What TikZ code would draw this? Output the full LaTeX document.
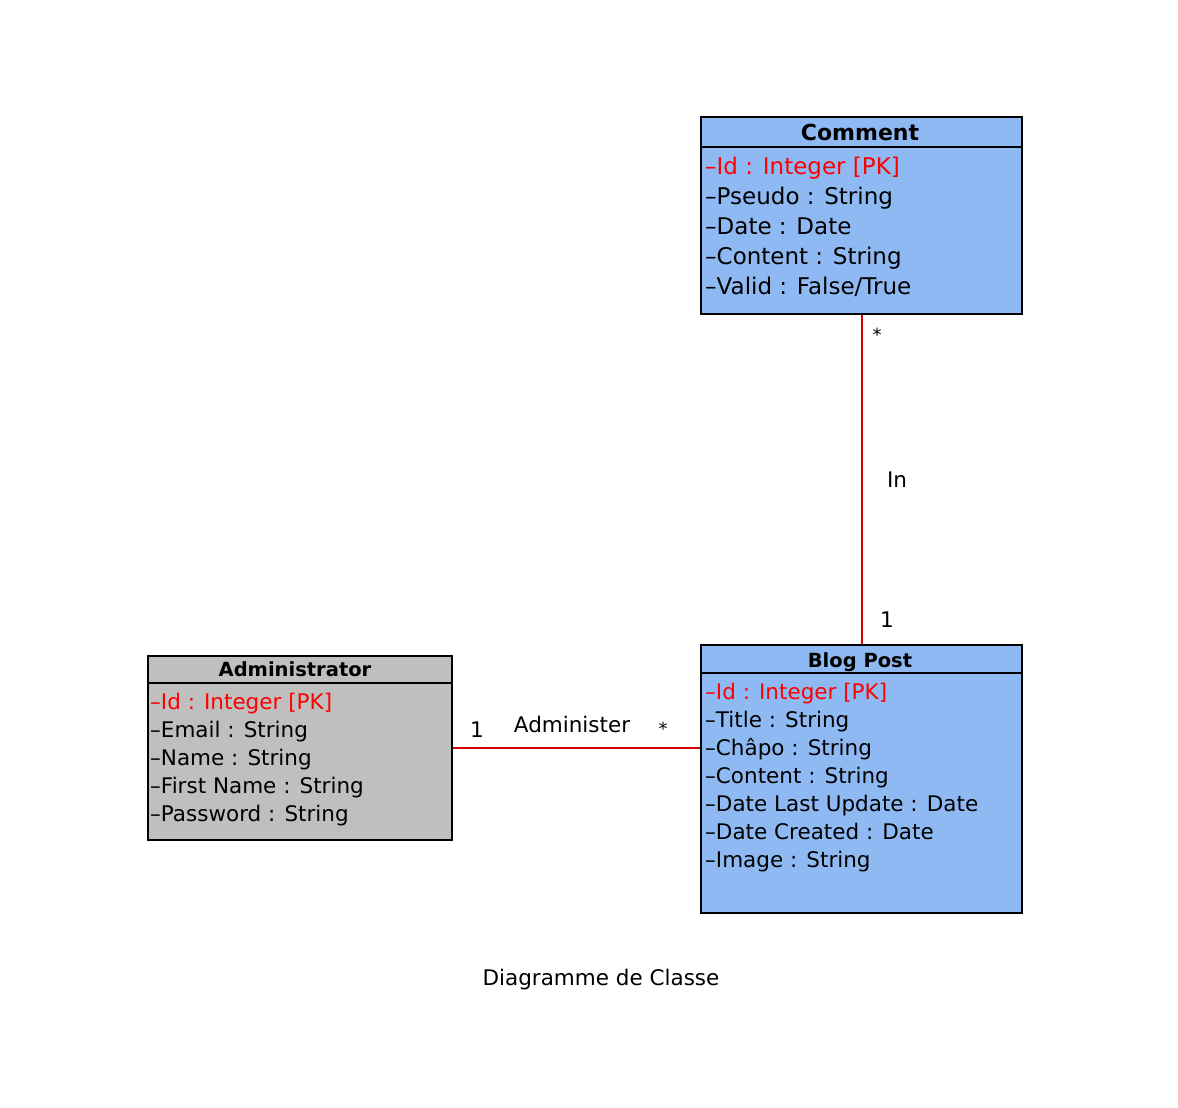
\documentclass[tikz,border=0pt]{standalone}
\usepackage{fontspec}
\setmainfont{DejaVu Sans}
\definecolor{boxblue}{RGB}{143,185,242}
\definecolor{boxgray}{RGB}{191,191,191}
\definecolor{pkred}{RGB}{255,0,0}
\definecolor{linkred}{RGB}{215,0,0}
\begin{document}
\begin{tikzpicture}[x=1pt,y=-1pt,
  classbox/.style={draw=black, line width=2pt, inner sep=0pt, anchor=north west},
  divider/.style={draw=black, line width=2pt},
  bigattr/.style={anchor=base west, inner sep=0pt, font=\fontsize{23}{28}\selectfont},
  attr/.style={anchor=base west, inner sep=0pt, font=\fontsize{21.5}{26}\selectfont},
  pk/.style={text=pkred},
  bighead/.style={anchor=base, inner sep=0pt, font=\fontsize{22}{26}\selectfont\bfseries},
  head/.style={anchor=base, inner sep=0pt, font=\fontsize{19.5}{24}\selectfont\bfseries},
  relline/.style={draw=linkred, line width=2pt},
  lbl/.style={inner sep=0pt, font=\fontsize{21.5}{26}\selectfont},
  star/.style={inner sep=0pt, font=\fontsize{18}{22}\selectfont}
]
\useasboundingbox (0,0) rectangle (1178,1108);

% Comment
\node[classbox, fill=boxblue, minimum width=321pt, minimum height=197pt] (comment) at (700,116) {};
\draw[divider] (700,147) -- (1021,147);
\node[bighead] (commenth) at (860,140) {Comment};
\node[bigattr, pk] (c1) at (705,174) {–Id : Integer [PK]};
\node[bigattr] (c2) at (705,204) {–Pseudo : String};
\node[bigattr] (c3) at (705,234) {–Date : Date};
\node[bigattr] (c4) at (705,264) {–Content : String};
\node[bigattr] (c5) at (705,294) {–Valid : False/True};

% Blog Post
\node[classbox, fill=boxblue, minimum width=321pt, minimum height=268pt] (blog) at (700,644) {};
\draw[divider] (700,672.5) -- (1021,672.5);
\node[head] (blogh) at (860,667) {Blog Post};
\node[attr, pk] (b1) at (705,699) {–Id : Integer [PK]};
\node[attr] (b2) at (705,727) {–Title : String};
\node[attr] (b3) at (705,755) {–Châpo : String};
\node[attr] (b4) at (705,783) {–Content : String};
\node[attr] (b5) at (705,811) {–Date Last Update : Date};
\node[attr] (b6) at (705,839) {–Date Created : Date};
\node[attr] (b7) at (705,867) {–Image : String};

% Administrator
\node[classbox, fill=boxgray, minimum width=304pt, minimum height=184pt] (admin) at (146.5,654.5) {};
\draw[divider] (146.5,682.5) -- (450.5,682.5);
\node[head] (adminh) at (295,676) {Administrator};
\node[attr, pk] (a1) at (150,709) {–Id : Integer [PK]};
\node[attr] (a2) at (150,737) {–Email : String};
\node[attr] (a3) at (150,765) {–Name : String};
\node[attr] (a4) at (150,793) {–First Name : String};
\node[attr] (a5) at (150,821) {–Password : String};

% Associations
\path[relline] (comment.south) -- (blog.north);
\node[star] (m1) at (877,335) {*};
\node[lbl] (in) at (897,480) {In};
\node[lbl] (m2) at (887,620) {1};

\path[relline] (admin.east) -- (blog.west |- admin.east);
\node[lbl] (m3) at (477,730) {1};
\node[lbl] (adm) at (572,724) {Administer};
\node[star] (m4) at (663,729) {*};

% Caption
\node[lbl, anchor=base] (caption) at (601,985) {Diagramme de Classe};
\end{tikzpicture}
\end{document}
